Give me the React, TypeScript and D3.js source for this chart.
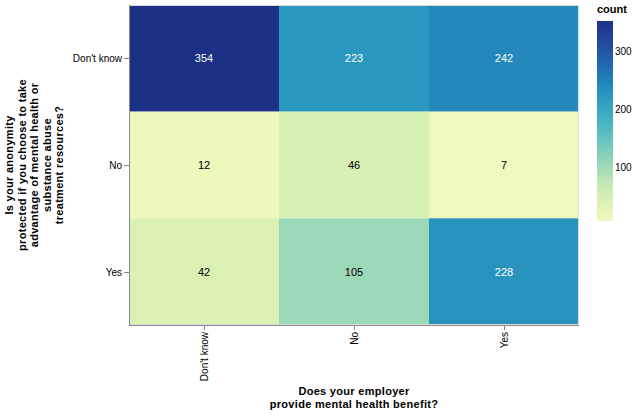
import React, { useEffect, useRef } from 'react';
import * as d3 from 'd3';

// categories on both axes
const benefitCats = ["Don't know", 'No', 'Yes'];
const anonymityCats = ["Don't know", 'No', 'Yes'];

// counts, one row per anonymity answer, columns follow benefitCats
const countsDontKnow = [354, 223, 242];
const countsNo = [12, 46, 7];
const countsYes = [42, 105, 228];
const legendTicks = [100, 200, 300];

const xTitle = ['Does your employer', 'provide mental health benefit?'];
const yTitle = [
  'Is your anonymity',
  'protected if you choose to take',
  'advantage of mental health or',
  'substance abuse',
  'treatment resources?',
];

// vega "yellowgreenblue"
const schemeHex = 'eff9bddbf1b4bde5b594d5b969c5be45b4c22c9ec02182b82163aa23479c1c3185';
const schemeColors = (schemeHex.match(/.{6}/g) || []).map(h => '#' + h);

const W = 638;
const H = 415;
const FONT = 'Liberation Sans, Arial, sans-serif';

const App: React.FC = () => {
  const svgRef = useRef<SVGSVGElement>(null);

  useEffect(() => {
    document.body.style.margin = '0';
    if (!svgRef.current) return;
    const svg = d3.select(svgRef.current);
    svg.selectAll('*').remove();

    const left = 129, top = 5, pw = 450, ph = 320;
    const rows = [countsDontKnow, countsNo, countsYes];
    const cells = rows.flatMap((r, i) =>
      r.map((v, j) => ({ x: benefitCats[j], y: anonymityCats[i], v }))
    );

    const x = d3.scaleBand().domain(benefitCats).range([0, pw]);
    const y = d3.scaleBand().domain(anonymityCats).range([0, ph]);
    const ext = d3.extent(cells, d => d.v) as [number, number];
    const interp = d3.piecewise(d3.interpolateRgb, schemeColors);
    const color = d3.scaleSequential(interp).domain(ext);

    const g = svg.append('g').attr('transform', `translate(${left},${top})`);

    g.selectAll('rect.cell')
      .data(cells)
      .join('rect')
      .attr('x', d => x(d.x)!)
      .attr('y', d => y(d.y)!)
      .attr('width', x.bandwidth())
      .attr('height', y.bandwidth())
      .attr('fill', d => color(d.v));

    g.append('rect')
      .attr('x', 0.5).attr('y', 0.5)
      .attr('width', pw - 1).attr('height', ph - 1)
      .attr('fill', 'none').attr('stroke', '#ddd');

    g.selectAll('text.val')
      .data(cells)
      .join('text')
      .attr('x', d => x(d.x)! + x.bandwidth() / 2)
      .attr('y', d => y(d.y)! + y.bandwidth() / 2)
      .attr('dy', '0.35em')
      .attr('text-anchor', 'middle')
      .attr('font-family', FONT)
      .attr('font-size', 11)
      .attr('fill', d => (d.v > 150 ? 'white' : 'black'))
      .text(d => d.v);

    // x axis
    const xa = g.append('g').attr('transform', `translate(0,${ph})`);
    xa.append('line').attr('x1', 0).attr('x2', pw).attr('y1', 0.5).attr('y2', 0.5).attr('stroke', '#888');
    benefitCats.forEach(c => {
      const cx = Math.round(x(c)! + x.bandwidth() / 2) + 0.5;
      xa.append('line').attr('x1', cx).attr('x2', cx).attr('y1', 0).attr('y2', 5).attr('stroke', '#888');
      xa.append('text')
        .attr('transform', `translate(${cx},7) rotate(-90)`)
        .attr('text-anchor', 'end')
        .attr('dy', '0.32em')
        .attr('font-family', FONT)
        .attr('font-size', 10)
        .attr('fill', '#000')
        .text(c);
    });
    xTitle.forEach((t, i) => {
      xa.append('text')
        .attr('x', pw / 2)
        .attr('y', 70 + i * 13)
        .attr('text-anchor', 'middle')
        .attr('font-family', FONT)
        .attr('font-size', 11)
        .attr('font-weight', 'bold')
        .attr('letter-spacing', 0.3)
        .text(t);
    });

    // y axis
    const ya = g.append('g');
    ya.append('line').attr('x1', 0.5).attr('x2', 0.5).attr('y1', 0).attr('y2', ph).attr('stroke', '#888');
    anonymityCats.forEach(c => {
      const cy = Math.round(y(c)! + y.bandwidth() / 2) + 0.5;
      ya.append('line').attr('x1', -5).attr('x2', 0).attr('y1', cy).attr('y2', cy).attr('stroke', '#888');
      ya.append('text')
        .attr('x', -7)
        .attr('y', cy)
        .attr('dy', '0.32em')
        .attr('text-anchor', 'end')
        .attr('font-family', FONT)
        .attr('font-size', 10)
        .text(c);
    });
    yTitle.forEach((t, i) => {
      ya.append('text')
        .attr('transform', `translate(${-116 + i * 12.5},${ph / 2}) rotate(-90)`)
        .attr('text-anchor', 'middle')
        .attr('font-family', FONT)
        .attr('font-size', 11)
        .attr('font-weight', 'bold')
        .attr('letter-spacing', 0.3)
        .text(t);
    });

    // legend
    const lg = svg.append('g').attr('transform', 'translate(597,21)');
    const gradId = 'count-grad';
    const grad = svg.append('defs').append('linearGradient')
      .attr('id', gradId).attr('x1', 0).attr('x2', 0).attr('y1', 1).attr('y2', 0);
    d3.range(0, 1.0001, 0.05).forEach(t => {
      grad.append('stop')
        .attr('offset', t)
        .attr('stop-color', color(ext[0] + t * (ext[1] - ext[0])));
    });
    lg.append('rect').attr('width', 16).attr('height', 200).attr('fill', `url(#${gradId})`);
    const ls = d3.scaleLinear().domain(ext).range([200, 0]);
    legendTicks.forEach(t => {
      lg.append('text')
        .attr('x', 18)
        .attr('y', ls(t))
        .attr('dy', '0.32em')
        .attr('font-family', FONT)
        .attr('font-size', 10)
        .text(t);
    });
    lg.append('text')
      .attr('x', 0)
      .attr('y', -8)
      .attr('font-family', FONT)
      .attr('font-size', 11)
      .attr('font-weight', 'bold')
      .text('count');
  }, []);

  return <svg ref={svgRef} width={W} height={H} style={{ display: 'block', background: 'white' }} />;
};

export default App;
